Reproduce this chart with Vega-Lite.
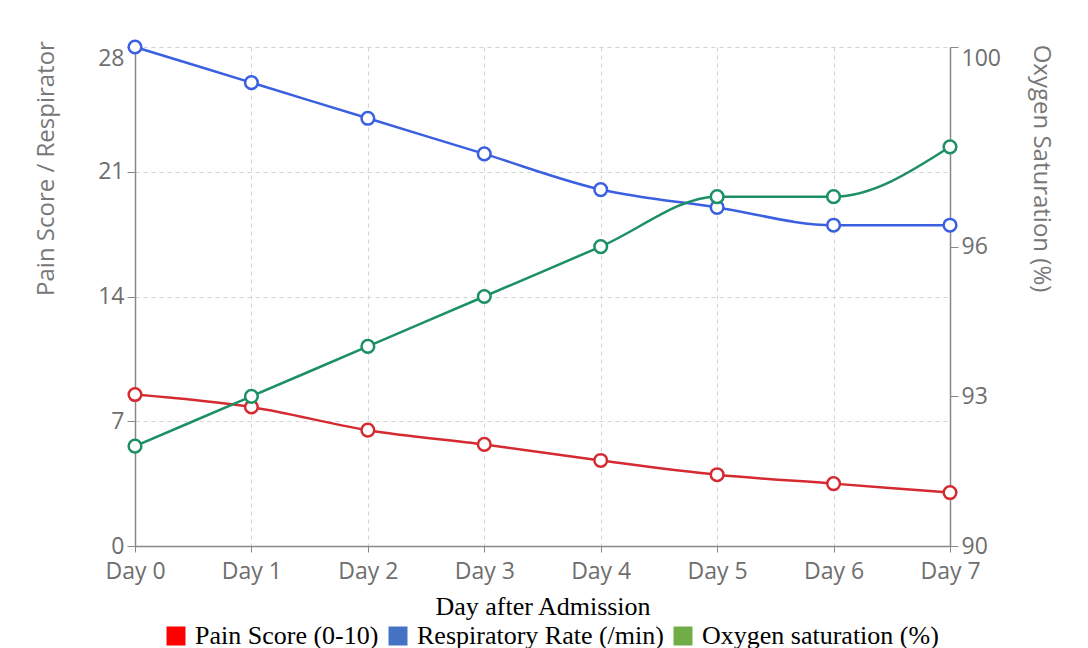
{
  "$schema": "https://vega.github.io/schema/vega-lite/v6.json",
  "width": 815,
  "height": 499,
  "autosize": {"type": "none"},
  "padding": {"left": 135, "top": 47, "right": 138, "bottom": 102},
  "background": "white",
  "data": {
    "values": [
      {"day": "Day 0", "series": "Pain Score (0-10)", "value": 8.5},
      {"day": "Day 1", "series": "Pain Score (0-10)", "value": 7.8},
      {"day": "Day 2", "series": "Pain Score (0-10)", "value": 6.5},
      {"day": "Day 3", "series": "Pain Score (0-10)", "value": 5.7},
      {"day": "Day 4", "series": "Pain Score (0-10)", "value": 4.8},
      {"day": "Day 5", "series": "Pain Score (0-10)", "value": 4.0},
      {"day": "Day 6", "series": "Pain Score (0-10)", "value": 3.5},
      {"day": "Day 7", "series": "Pain Score (0-10)", "value": 3.0},
      {"day": "Day 0", "series": "Respiratory Rate (/min)", "value": 28},
      {"day": "Day 1", "series": "Respiratory Rate (/min)", "value": 26},
      {"day": "Day 2", "series": "Respiratory Rate (/min)", "value": 24},
      {"day": "Day 3", "series": "Respiratory Rate (/min)", "value": 22},
      {"day": "Day 4", "series": "Respiratory Rate (/min)", "value": 20},
      {"day": "Day 5", "series": "Respiratory Rate (/min)", "value": 19},
      {"day": "Day 6", "series": "Respiratory Rate (/min)", "value": 18},
      {"day": "Day 7", "series": "Respiratory Rate (/min)", "value": 18},
      {"day": "Day 0", "series": "Oxygen saturation (%)", "value": 92},
      {"day": "Day 1", "series": "Oxygen saturation (%)", "value": 93},
      {"day": "Day 2", "series": "Oxygen saturation (%)", "value": 94},
      {"day": "Day 3", "series": "Oxygen saturation (%)", "value": 95},
      {"day": "Day 4", "series": "Oxygen saturation (%)", "value": 96},
      {"day": "Day 5", "series": "Oxygen saturation (%)", "value": 97},
      {"day": "Day 6", "series": "Oxygen saturation (%)", "value": 97},
      {"day": "Day 7", "series": "Oxygen saturation (%)", "value": 98}
    ]
  },
  "encoding": {
    "x": {
      "field": "day",
      "type": "ordinal",
      "scale": {"type": "point", "padding": 0},
      "axis": {
        "title": "Day after Admission",
        "titleFont": "Liberation Serif",
        "titleFontSize": 26,
        "titleFontWeight": "normal",
        "titleColor": "#000000",
        "titlePadding": 10,
        "labelAngle": 0,
        "labelFont": "Open Sans",
        "labelFontSize": 23,
        "labelColor": "#6e6e6e",
        "labelPadding": 8,
        "tickColor": "#888888",
        "tickSize": 6,
        "domainColor": "#888888",
        "domainWidth": 1.5,
        "grid": true,
        "gridDash": [4, 4],
        "gridColor": "#d4d4d4"
      }
    },
    "color": {
      "field": "series",
      "type": "nominal",
      "scale": {
        "domain": ["Pain Score (0-10)", "Respiratory Rate (/min)", "Oxygen saturation (%)"],
        "range": ["#d42a30", "#3a5fe0", "#1b9062"]
      },
      "legend": {
        "orient": "none",
        "legendX": 28,
        "legendY": 576,
        "direction": "horizontal",
        "title": null,
        "symbolType": "square",
        "symbolSize": 361,
        "symbolStrokeWidth": 0,
        "symbolOpacity": 1,
        "labelFont": "Liberation Serif",
        "labelFontSize": 26,
        "labelColor": "#000000",
        "labelLimit": 400,
        "labelOffset": 6,
        "columnPadding": 6,
        "encode": {
          "symbols": {
            "update": {
              "fill": {"signal": "datum.value === 'Pain Score (0-10)' ? '#ff0000' : datum.value === 'Respiratory Rate (/min)' ? '#4472c4' : '#70ad47'"},
              "stroke": {"value": "transparent"}
            }
          }
        }
      }
    }
  },
  "layer": [
    {
      "transform": [{"filter": "datum.series !== 'Oxygen saturation (%)'"}],
      "mark": {
        "type": "line",
        "interpolate": "monotone",
        "strokeWidth": 2.5,
        "point": {"filled": false, "fill": "white", "size": 160, "strokeWidth": 2.5}
      },
      "encoding": {
        "y": {
          "field": "value",
          "type": "quantitative",
          "scale": {"domain": [0, 28], "nice": false, "zero": true},
          "axis": {
            "values": [0, 7, 14, 21, 28],
            "title": "Pain Score / Respirator",
            "titleFont": "Open Sans",
            "titleFontSize": 24,
            "titleFontWeight": "normal",
            "titleColor": "#777777",
            "titleAngle": -90,
            "titleX": -89,
            "titleY": 121,
            "titleAlign": "center",
            "titleBaseline": "middle",
            "labelFont": "Open Sans",
            "labelFontSize": 23,
            "labelColor": "#6e6e6e",
            "labelPadding": 3,
            "labelBaseline": {"condition": {"test": "datum.value === 28", "value": "top"}, "value": "middle"},
            "tickColor": "#888888",
            "tickSize": 8,
            "domainColor": "#888888",
            "domainWidth": 1.5,
            "grid": true,
            "gridDash": [4, 4],
            "gridColor": "#d4d4d4"
          }
        }
      }
    },
    {
      "transform": [{"filter": "datum.series === 'Oxygen saturation (%)'"}],
      "mark": {
        "type": "line",
        "interpolate": "monotone",
        "strokeWidth": 2.5,
        "point": {"filled": false, "fill": "white", "size": 160, "strokeWidth": 2.5}
      },
      "encoding": {
        "y": {
          "field": "value",
          "type": "quantitative",
          "scale": {"domain": [90, 100], "nice": false, "zero": false},
          "axis": {
            "orient": "right",
            "values": [90, 93, 96, 100],
            "title": "Oxygen Saturation (%)",
            "titleFont": "Open Sans",
            "titleFontSize": 24,
            "titleFontWeight": "normal",
            "titleColor": "#777777",
            "titleAngle": 90,
            "titleX": 90,
            "titleY": 121,
            "titleAlign": "center",
            "titleBaseline": "middle",
            "labelFont": "Open Sans",
            "labelFontSize": 23,
            "labelColor": "#6e6e6e",
            "labelPadding": 3,
            "labelBaseline": {"condition": {"test": "datum.value === 100", "value": "top"}, "value": "middle"},
            "tickColor": "#888888",
            "tickSize": 8,
            "domainColor": "#888888",
            "domainWidth": 1.5,
            "grid": false
          }
        }
      }
    }
  ],
  "resolve": {"scale": {"y": "independent"}},
  "config": {"view": {"stroke": null}}
}
